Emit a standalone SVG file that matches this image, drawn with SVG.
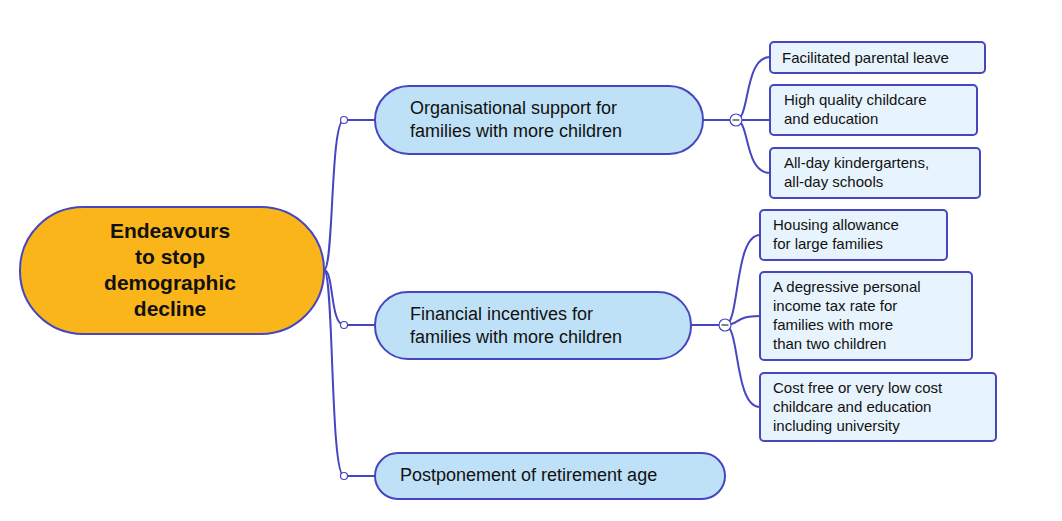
<svg xmlns="http://www.w3.org/2000/svg" width="1062" height="521" viewBox="0 0 1062 521">
<style>
.c{fill:none;stroke:#4646C0;stroke-width:2}
.b{fill:#BEE1F8;stroke:#4646C0;stroke-width:2}
.l{fill:#E8F4FD;stroke:#4646C0;stroke-width:2}
.t{font-family:"Liberation Sans",Arial,sans-serif;font-size:18px;fill:#111}
.s{font-family:"Liberation Sans",Arial,sans-serif;font-size:15px;fill:#111}
.d{fill:#fff;stroke:#4646C0;stroke-width:1.2}
</style>
<rect width="1062" height="521" fill="#fff"/>
<g id="connectors">
<path class="c" d="M324,270 C334,270 330,120 344,120 L375,120"/>
<path class="c" d="M324,270 C334,270 330,325 344,325 L375,325"/>
<path class="c" d="M324,270 C334,270 330,476 344,476 L375,476"/>
<path class="c" d="M703,120 L736,120"/>
<path class="c" d="M736,120 C750,120 744,57 770,57"/>
<path class="c" d="M736,120 L770,120"/>
<path class="c" d="M736,120 C750,120 744,173 770,173"/>
<path class="c" d="M691,325 L725,325"/>
<path class="c" d="M725,325 C740,325 734,235 760,235"/>
<path class="c" d="M725,325 C740,325 734,316 760,316"/>
<path class="c" d="M725,325 C740,325 734,407 760,407"/>
<circle class="d" cx="344" cy="120" r="3.5"/>
<circle class="d" cx="344" cy="325" r="3.5"/>
<circle class="d" cx="344" cy="476" r="3.5"/>
<circle class="d" cx="736" cy="120" r="6"/><path d="M732.5,120 H739.5" stroke="#333" stroke-width="1.2"/>
<circle class="d" cx="725" cy="325" r="6"/><path d="M721.5,325 H728.5" stroke="#333" stroke-width="1.2"/>
</g>
<g id="root">
<rect x="20" y="207" width="304" height="127" rx="63" fill="#F9B51A" stroke="#4646C0" stroke-width="2"/>
<text font-family="Liberation Sans,Arial,sans-serif" font-weight="bold" font-size="21" text-anchor="middle" fill="#111">
<tspan x="170" y="238">Endeavours</tspan><tspan x="170" y="264">to stop</tspan><tspan x="170" y="290">demographic</tspan><tspan x="170" y="316">decline</tspan></text>
</g>
<g id="n1"><rect class="b" x="375" y="86" width="328" height="68" rx="34"/>
<text class="t"><tspan x="410" y="114">Organisational support for</tspan><tspan x="410" y="137">families with more children</tspan></text></g>
<g id="n2"><rect class="b" x="375" y="292" width="316" height="67" rx="33"/>
<text class="t"><tspan x="410" y="320">Financial incentives for</tspan><tspan x="410" y="343">families with more children</tspan></text></g>
<g id="n3"><rect class="b" x="375" y="453" width="350" height="46" rx="23"/>
<text class="t" x="400" y="481">Postponement of retirement age</text></g>
<g id="l1"><rect class="l" x="770" y="42" width="215" height="31" rx="4"/><text class="s" x="782" y="63">Facilitated parental leave</text></g>
<g id="l2"><rect class="l" x="770" y="85" width="207" height="50" rx="4"/><text class="s"><tspan x="784" y="105">High quality childcare</tspan><tspan x="784" y="124">and education</tspan></text></g>
<g id="l3"><rect class="l" x="770" y="148" width="210" height="50" rx="4"/><text class="s"><tspan x="784" y="168">All-day kindergartens,</tspan><tspan x="784" y="187">all-day schools</tspan></text></g>
<g id="l4"><rect class="l" x="760" y="210" width="187" height="50" rx="4"/><text class="s"><tspan x="773" y="230">Housing allowance</tspan><tspan x="773" y="249">for large families</tspan></text></g>
<g id="l5"><rect class="l" x="760" y="272" width="212" height="88" rx="4"/><text class="s"><tspan x="773" y="292">A degressive personal</tspan><tspan x="773" y="311">income tax rate for</tspan><tspan x="773" y="330">families with more</tspan><tspan x="773" y="349">than two children</tspan></text></g>
<g id="l6"><rect class="l" x="760" y="373" width="236" height="68" rx="4"/><text class="s"><tspan x="773" y="393">Cost free or very low cost</tspan><tspan x="773" y="412">childcare and education</tspan><tspan x="773" y="431">including university</tspan></text></g>
</svg>
